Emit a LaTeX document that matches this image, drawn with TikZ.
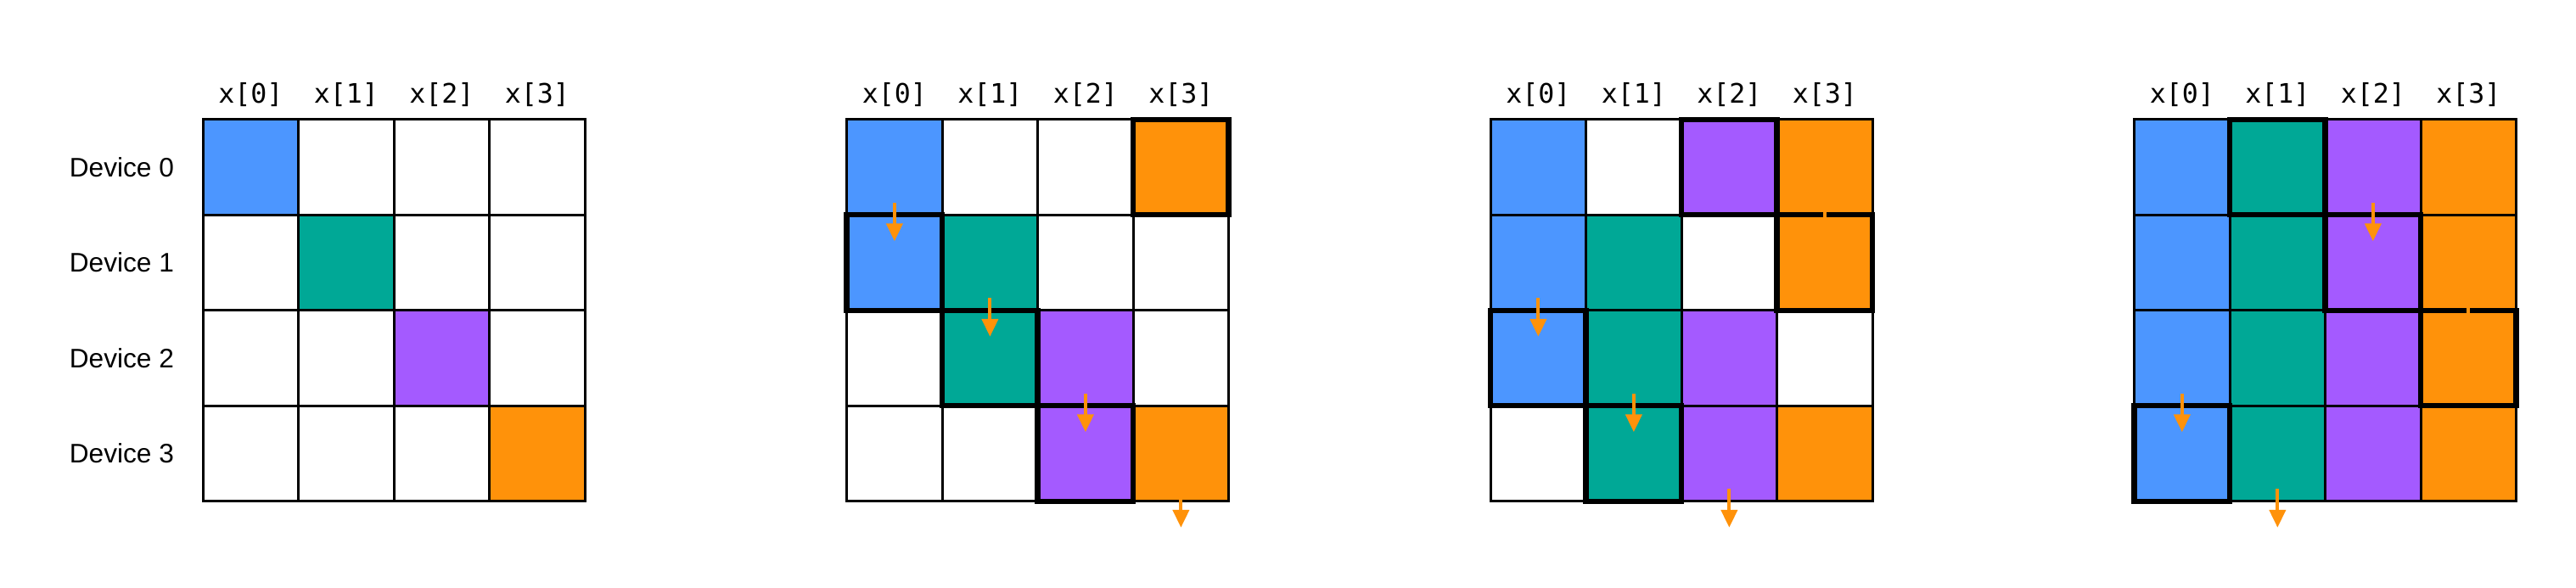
\documentclass[tikz,border=0pt]{standalone}
\usepackage{fontspec}
\setmainfont{Liberation Sans}
\setmonofont{DejaVu Sans Mono}
\usepackage{tikz}
\usetikzlibrary{arrows.meta, positioning}
\usepackage{xcolor}
\definecolor{devblue}{RGB}{76,150,255}
\definecolor{devteal}{RGB}{0,168,150}
\definecolor{devpurple}{RGB}{164,90,255}
\definecolor{devorange}{RGB}{255,146,10}

\begin{document}
\begin{tikzpicture}[x=1.5cm, y=1.5cm,
      cell/.style={rectangle, draw, line width=1.2pt, minimum size=1.5cm, inner sep=0pt, outer sep=0pt},
      hilite/.style={rectangle, draw, line width=2.4pt, minimum size=1.5cm, inner sep=0pt, outer sep=0pt},
      hdr/.style={anchor=base, inner sep=0pt, font=\fontsize{12}{14}\selectfont\ttfamily},
      devlabel/.style={inner sep=0pt, font=\fontsize{12}{14}\selectfont},
      flow/.style={-{Triangle[length=7.9pt, width=7.2pt]}, line width=1.5pt, devorange}
    ]
    \useasboundingbox[fill=white] (-2.126,1.2516) rectangle (24.852,-4.9084);

    % the four steps, cells coloured once they hold a block
    \foreach \k in {0,...,3} {
      \foreach \r in {0,...,3} {
        \foreach \c/\col in {0/devblue, 1/devteal, 2/devpurple, 3/devorange} {
          \pgfmathtruncatemacro{\d}{mod(\r-\c+4,4)}
          \ifnum\d>\k \def\fc{white}\else\def\fc{\col}\fi
          \node[cell, fill=\fc] (p\k-\r-\c) at (\k*6.742+\c+0.5, -\r-0.5) {};
        }
      }
      \foreach \c in {0,...,3}
        \node[hdr] (h\k-\c) at ([yshift=0.255cm]p\k-0-\c.north) {x[\c]};
    }

    \foreach \r in {0,...,3}
      \node[devlabel, left=0.45cm of p0-\r-0] (dev\r) {Device \r};

    \foreach \k in {1,2,3} {
      \foreach \c in {0,...,3} {
        \pgfmathtruncatemacro{\rb}{mod(\c+\k,4)}
        \node[hilite] (hl\k-\c) at (p\k-\rb-\c) {};
      }
    }

    \foreach \k in {1,2,3} {
      \foreach \c in {0,...,3} {
        \pgfmathtruncatemacro{\ra}{mod(\c+\k-1,4)}
        \pgfmathtruncatemacro{\rb}{mod(\c+\k,4)}
        \ifnum\ra=3
          \coordinate (out\k-\c) at ([yshift=-0.413cm]p\k-3-\c.south);
          \draw[flow] ([yshift=0.193cm]p\k-3-\c.south) -- (out\k-\c);
        \else
          \draw[flow] ([yshift=0.193cm]p\k-\ra-\c.south) -- ([yshift=-0.413cm]p\k-\rb-\c.north);
        \fi
      }
    }
  \end{tikzpicture}
\end{document}
